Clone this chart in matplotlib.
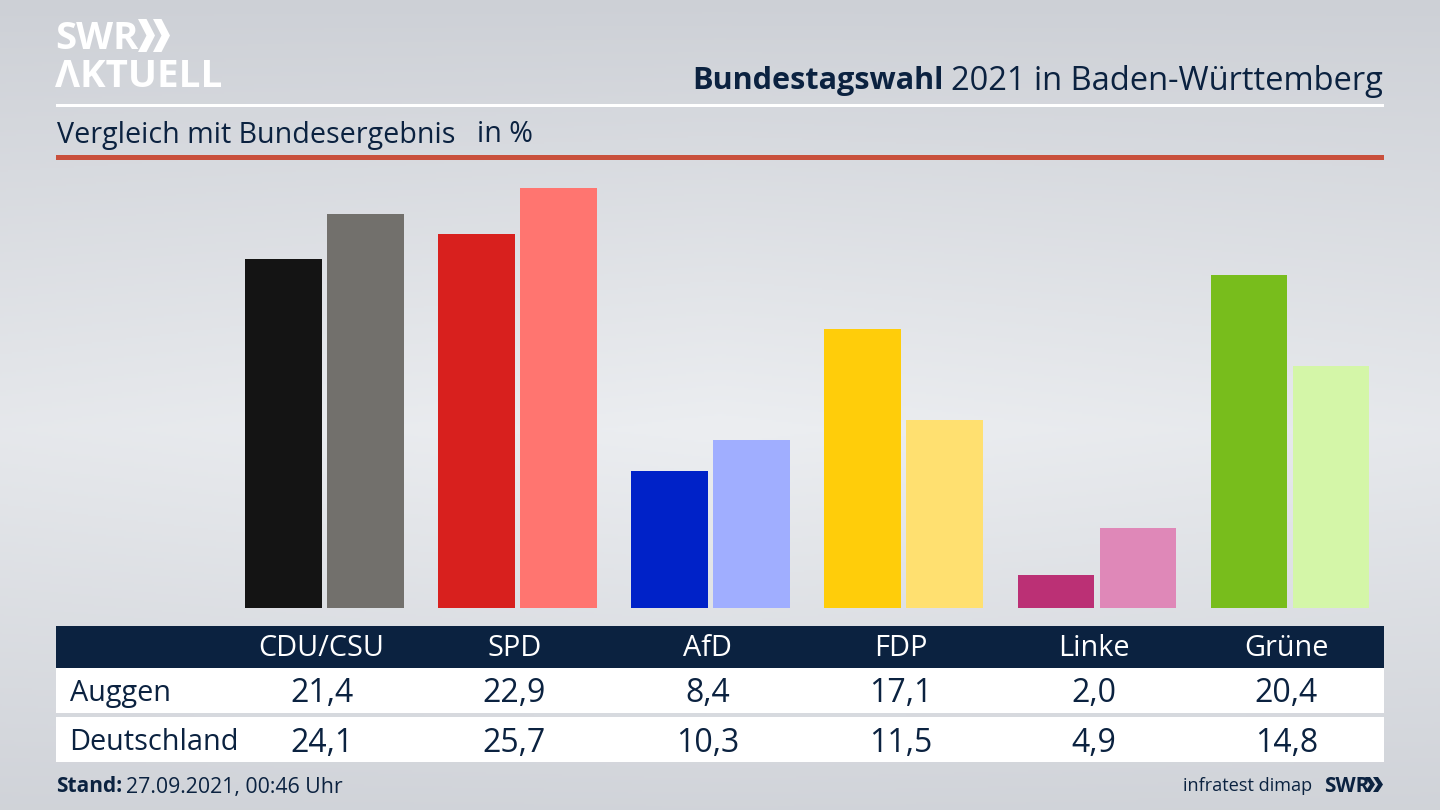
import numpy as np
import matplotlib
matplotlib.use("Agg")
import matplotlib.pyplot as plt
from matplotlib.patches import Rectangle, Polygon

parties = ["CDU/CSU", "SPD", "AfD", "FDP", "Linke", "Grüne"]
auggen = [21.4, 22.9, 8.4, 17.1, 2.0, 20.4]
deutschland = [24.1, 25.7, 10.3, 11.5, 4.9, 14.8]
auggen_colors = ["#141414", "#d8201e", "#0022c8", "#ffcd0a", "#bb3075", "#78bd1c"]
deutschland_colors = ["#72706c", "#ff7570", "#a0aeff", "#ffe070", "#df88b8", "#d4f6a8"]
row_names = ["Auggen", "Deutschland"]

NAVY = "#0b2240"
FONT = "Open Sans"
plt.rcParams["font.family"] = [FONT, "DejaVu Sans"]

W, H = 1440, 810
fig = plt.figure(figsize=(W / 100, H / 100), dpi=100)

# Pixel-coordinate canvas for the furniture
bg = fig.add_axes([0, 0, 1, 1])
bg.set_xlim(0, W)
bg.set_ylim(H, 0)
bg.axis("off")

# Background gradient, lightest around mid height
yy = np.linspace(0, 1, 405)
xx = np.linspace(0, 1, 720)
X, Y = np.meshgrid(xx, yy)
t = np.clip(1 - np.abs(Y - 0.53) / 0.53, 0, 1) ** 0.95
t = t * (1 - 0.2 * np.abs(X - 0.5) * 2)
top = np.array([205, 208, 214]) / 255
mid = np.array([236, 238, 241]) / 255
img = top[None, None, :] + t[:, :, None] * (mid - top)[None, None, :]
bg.imshow(img, extent=(0, W, H, 0), aspect="auto", zorder=0)
bg.set_xlim(0, W)
bg.set_ylim(H, 0)


def rect(x0, y0, x1, y1, color, z=1):
    bg.add_patch(Rectangle((x0, y0), x1 - x0, y1 - y0, facecolor=color, edgecolor="none", zorder=z))


def chevrons(x, y, h, w, gap, color):
    for k in range(2):
        x0 = x + k * gap
        bg.add_patch(Polygon(
            [(x0, y), (x0 + w * 0.5, y), (x0 + w, y + h / 2), (x0 + w * 0.5, y + h), (x0, y + h),
             (x0 + w * 0.5, y + h / 2)],
            closed=True, facecolor=color, edgecolor="none", zorder=3))


# Rules
rect(56, 104, 1384, 107, "white")
rect(56, 155, 1384, 160, "#c9503c")

# Logo
bg.text(55, 39, "SWR", fontsize=27.5, fontweight="bold", color="white", va="center", ha="left",
        family="Open Sans", zorder=3)
chevrons(138, 19, 33, 17, 15, "white")
bg.text(55, 77, "ΛKTUELL", fontsize=27.7, fontweight="bold", color="white", va="center", ha="left",
        family="Open Sans", zorder=3)

# Titles
bg.text(1383, 81, "2021 in Baden-Württemberg", fontsize=23.5, color=NAVY, ha="right", va="center", zorder=3)
bg.text(944, 81, "Bundestagswahl", fontsize=22.1, fontweight="bold", color=NAVY, ha="right", va="center", zorder=3)
bg.text(57, 135, "Vergleich mit Bundesergebnis", fontsize=20.6, color=NAVY, ha="left", va="center", zorder=3)
bg.text(477, 135, "in %", fontsize=20.6, color=NAVY, ha="left", va="center", zorder=3)

# Bars
ax = fig.add_axes([227.8 / W, (H - 608) / H, (1386.6 - 227.8) / W, (608 - 170) / H])
ax.patch.set_alpha(0)
ax.axis("off")
ax.set_xlim(-0.5, 5.5)
ax.set_ylim(0, (608 - 170) / 16.33)
pos = np.arange(len(parties))
ax.bar(pos - 0.2124, auggen, width=0.397, color=auggen_colors)
ax.bar(pos + 0.2124, deutschland, width=0.397, color=deutschland_colors)

# Table
rect(56, 626, 1384, 668, NAVY)
rect(56, 668, 1384, 713, "white")
rect(56, 717, 1384, 762, "white")
col_x = 228 + 193 * (pos + 0.5)
for cx, p, a, d in zip(col_x, parties, auggen, deutschland):
    bg.text(cx - 3, 648, p, fontsize=20.8, color="white", ha="center", va="center", zorder=3)
    bg.text(cx - 3, 693, f"{a:.1f}".replace(".", ","), fontsize=23, color=NAVY, ha="center", va="center", zorder=3)
    bg.text(cx - 3, 743, f"{d:.1f}".replace(".", ","), fontsize=23, color=NAVY, ha="center", va="center", zorder=3)
bg.text(70, 693, row_names[0], fontsize=20.8, color=NAVY, ha="left", va="center", zorder=3)
bg.text(69, 742, row_names[1], fontsize=20.8, color=NAVY, ha="left", va="center", zorder=3)

# Footer
bg.text(56, 787, "Stand:", fontsize=15, fontweight="bold", color=NAVY, ha="left", va="center", zorder=3)
bg.text(126, 787, "27.09.2021, 00:46 Uhr", fontsize=15.3, color=NAVY, ha="left", va="center", zorder=3)
bg.text(1312, 786, "infratest dimap", fontsize=13.1, color=NAVY, ha="right", va="center", zorder=3)
bg.text(1324, 786, "SWR", fontsize=15, fontweight="bold", color=NAVY, ha="left", va="center", zorder=3)
chevrons(1365, 777, 15, 10, 8, NAVY)

fig.savefig("out.png", dpi=100)
